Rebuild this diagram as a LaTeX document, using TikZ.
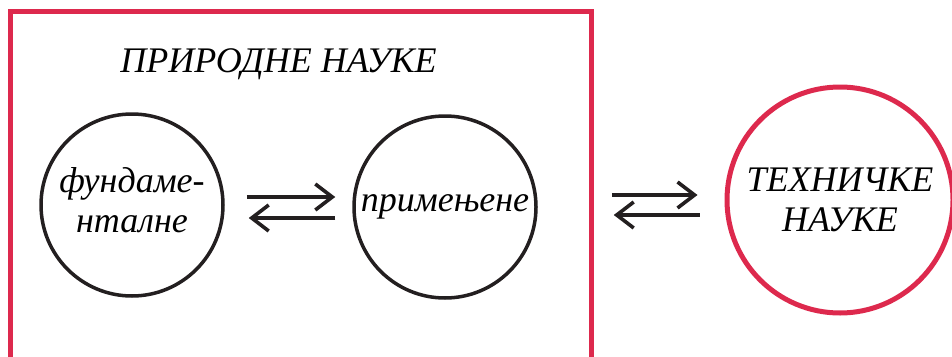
\documentclass[tikz,border=0pt]{standalone}
\usepackage{fontspec}
\newfontfamily\lsi{Liberation Serif}
\usetikzlibrary{arrows.meta}
\definecolor{natred}{RGB}{221,41,77}
\definecolor{ink}{RGB}{35,31,32}
\tikzset{
  circ/.style={circle, draw=ink, line width=3.5pt, minimum size=182pt, inner sep=0pt, align=center},
  redcirc/.style={circle, draw=natred, line width=5pt, minimum size=226pt, inner sep=0pt, align=center},
  arr/.style={draw=ink, line width=3.6pt, -{Straight Barb[length=17pt, width=26pt, line width=3.6pt]}},
}
\begin{document}
\begin{tikzpicture}[x=1pt, y=-1pt]
\useasboundingbox (0,0) rectangle (952,356);
\draw[natred, line width=5pt] (10,360) -- (10,11) -- (591,11) -- (591,360);
\node[anchor=base, font=\lsi\itshape\fontsize{36}{40}\selectfont] (title) at (278.5,72) {ПРИРОДНЕ НАУКЕ};
\node[circ, font=\lsi\itshape\fontsize{36}{40}\selectfont] (f) at (132,205) {фундаме-\\нталне\rule[-10pt]{0pt}{10pt}};
\node[circ, font=\lsi\itshape\fontsize{36}{40}\selectfont] (p) at (445,207) {примењене};
\node[redcirc, font=\lsi\itshape\fontsize{36}{40}\selectfont] (t) at (840,200) {ТЕХНИЧКЕ\\НАУКЕ};
\draw[arr] ([xshift=22pt,yshift=8pt]f.east) -- ([xshift=-17pt,yshift=10pt]p.west);
\draw[arr] ([xshift=-17pt,yshift=-11pt]p.west) -- ([xshift=24pt,yshift=-13pt]f.east);
\draw[arr] ([xshift=74pt,yshift=12pt]p.east) -- ([xshift=-27pt,yshift=5pt]t.west);
\draw[arr] ([xshift=-25pt,yshift=-15pt]t.west) -- ([xshift=76pt,yshift=-8pt]p.east);
\end{tikzpicture}
\end{document}
